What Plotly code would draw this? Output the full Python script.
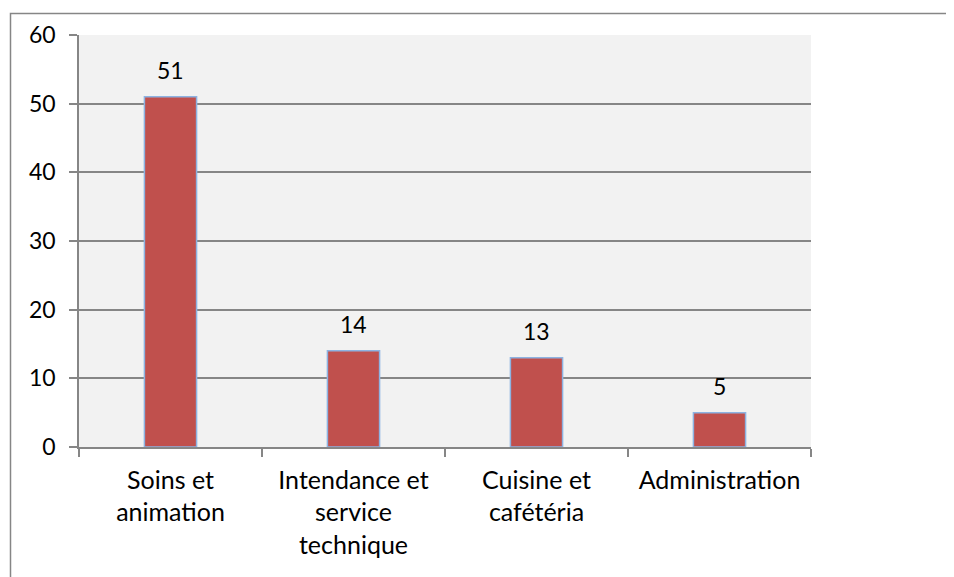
import plotly.graph_objects as go

categories = ["Soins et<br>animation", "Intendance et<br>service<br>technique", "Cuisine et<br>cafétéria", "Administration"]
values = [51, 14, 13, 5]
y_ticks = [0, 10, 20, 30, 40, 50, 60]

# figure is placed 8px from the window edge by the page's body margin
W, H = 946, 569
L, R, T, B = 71, 143, 25, 130
pw, ph = W - L - R, H - T - B

font = dict(family="Lato, sans-serif", size=23, color="#000000")
xfont = dict(family="Lato, sans-serif", size=25, color="#000000")

fig = go.Figure(go.Bar(
    x=categories, y=values,
    marker=dict(color="#C0504D", line=dict(color="#8DB3E2", width=1.5)),
    hoverinfo="skip",
))

for c, v in zip(categories, values):
    fig.add_annotation(x=c, y=v, text=str(v), showarrow=False, yanchor="bottom",
                       yshift=11, font=font)

# outer chart border
fig.add_shape(type="rect", xref="paper", yref="paper",
              x0=(2.5 - L) / pw, x1=(W + 20 - L) / pw,
              y0=-(H + 20 - T - ph) / ph, y1=(T + ph - 3.5) / ph,
              line=dict(color="#868686", width=1.5), fillcolor="rgba(0,0,0,0)", layer="below")

fig.update_layout(
    width=W, height=H,
    margin=dict(l=L, r=R, t=T, b=B, pad=0),
    paper_bgcolor="#FFFFFF", plot_bgcolor="#F2F2F2",
    font=font, showlegend=False, bargap=0.715,
    xaxis=dict(showline=True, linecolor="#868686", linewidth=1.5, ticks="outside",
               tickson="boundaries", ticklen=8, tickcolor="#868686", tickwidth=1.5,
               showgrid=False, mirror=False, ticklabelstandoff=10, tickfont=xfont),
    yaxis=dict(range=[0, 60], tickvals=y_ticks, showline=True, linecolor="#868686",
               linewidth=1.5, ticks="outside", ticklen=8, tickcolor="#868686", tickwidth=1.5,
               showgrid=True, gridcolor="#868686", gridwidth=1.5, zeroline=False,
               ticklabelstandoff=9, tickfont=font),
)

fig.write_html("out.html")
